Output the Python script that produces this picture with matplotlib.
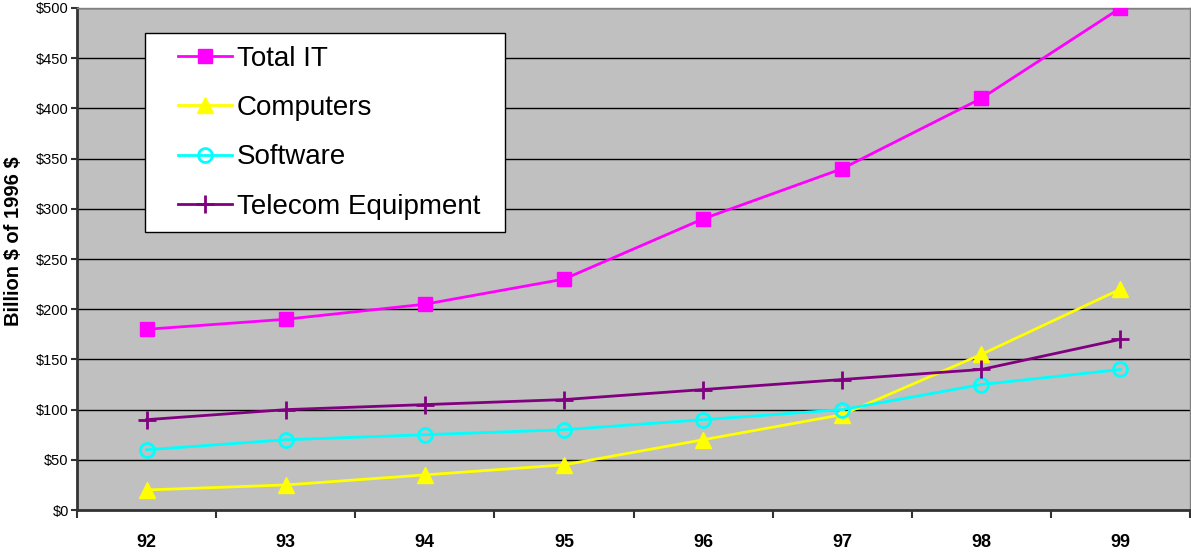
import numpy as np
import matplotlib.pyplot as plt
from matplotlib.ticker import FuncFormatter, FixedLocator
from matplotlib.legend_handler import HandlerLine2D

plt.rcParams['font.family'] = ['Liberation Sans', 'DejaVu Sans']

years = ['92', '93', '94', '95', '96', '97', '98', '99']
total_it = [180, 190, 205, 230, 290, 340, 410, 500]
computers = [20, 25, 35, 45, 70, 95, 155, 220]
software = [60, 70, 75, 80, 90, 100, 125, 140]
telecom = [90, 100, 105, 110, 120, 130, 140, 170]


class InsetLineHandler(HandlerLine2D):
    # leave some blank room on the left of each legend line, like Excel does
    def get_xdata(self, legend, xdescent, ydescent, width, height, fontsize):
        x0 = -xdescent + 0.27 * width
        x1 = -xdescent + width
        return np.array([x0, x1]), np.array([(x0 + x1) / 2])


fig = plt.figure(figsize=(11.91, 5.55), dpi=100)
ax = fig.add_axes([0.0647, 0.081, 0.9345, 0.9046])
ax.set_facecolor('#C0C0C0')

x = list(range(len(years)))
ax.plot(x, total_it, color='#FF00FF', lw=2, marker='s', ms=10.5, label='Total IT', zorder=3)
ax.plot(x, computers, color='#FFFF00', lw=2, marker='^', ms=12, label='Computers', zorder=3)
ax.plot(x, software, color='#00FFFF', lw=2, marker='o', ms=10, mfc='none', mew=2, label='Software', zorder=3)
ax.plot(x, telecom, color='#800080', lw=2, marker='+', ms=13, mew=2, label='Telecom Equipment', zorder=3)

ax.set_xlim(-0.5, len(years) - 0.5)
ax.set_ylim(0, 500)
ax.set_yticks(range(0, 501, 50))
ax.yaxis.set_major_formatter(FuncFormatter(lambda v, p: f'${int(v)}'))
ax.yaxis.grid(True, color='black', lw=1)
ax.set_axisbelow(True)

ax.set_xticks(x)
ax.set_xticklabels(years, fontsize=13, fontweight='bold')
ax.tick_params(axis='x', which='major', length=0, pad=17)
ax.xaxis.set_minor_locator(FixedLocator([i - 0.5 for i in range(len(years) + 1)]))
ax.tick_params(axis='x', which='minor', length=6, width=1.5, direction='out', color='#333333')
ax.tick_params(axis='y', labelsize=10.5, length=4, width=1.5, color='#333333', pad=2)

for s in ['left', 'bottom']:
    ax.spines[s].set_color('#333333')
    ax.spines[s].set_linewidth(2)
for s in ['top', 'right']:
    ax.spines[s].set_color('#808080')
    ax.spines[s].set_linewidth(1)

ax.set_ylabel(r'Billion \$ of 1996 \$', fontsize=14.5, fontweight='bold')
ax.yaxis.set_label_coords(-0.049, 0.535)

leg = ax.legend(loc='upper left', bbox_to_anchor=(0.061, 0.556, 0.3235, 0.394), mode='expand',
                fontsize=20, frameon=True, fancybox=False, edgecolor='black', framealpha=1,
                handlelength=2.7, handletextpad=0.15, labelspacing=0.84,
                borderpad=0.45, borderaxespad=0,
                handler_map={plt.Line2D: InsetLineHandler(numpoints=1)})
leg.get_frame().set_linewidth(1)

fig.savefig('out.png', dpi=100)
